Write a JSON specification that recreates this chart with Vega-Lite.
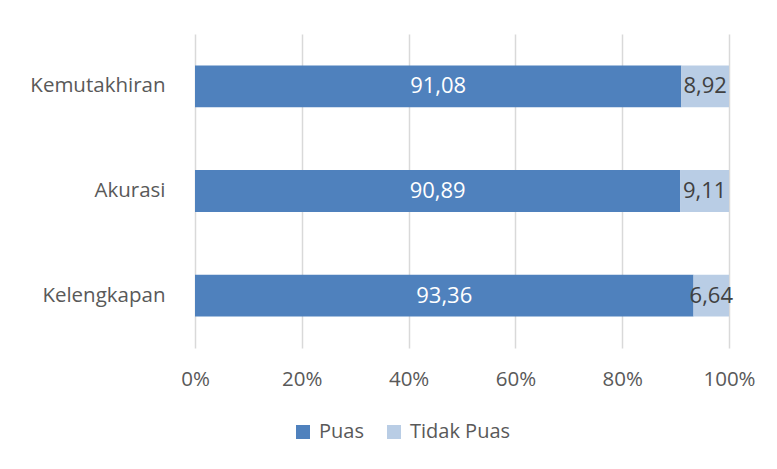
{
  "$schema": "https://vega.github.io/schema/vega-lite/v6.json",
  "width": 534,
  "height": 314,
  "autosize": {"type": "none"},
  "padding": {"left": 195, "top": 34, "right": 48, "bottom": 121},
  "background": "white",
  "config": {
    "view": {"stroke": null},
    "font": "Open Sans",
    "locale": {
      "number": {"decimal": ",", "thousands": ".", "grouping": [3], "currency": ["Rp", ""]}
    }
  },
  "data": {
    "values": [
      {"aspek": "Kemutakhiran", "status": "Puas", "nilai": 91.08},
      {"aspek": "Kemutakhiran", "status": "Tidak Puas", "nilai": 8.92},
      {"aspek": "Akurasi", "status": "Puas", "nilai": 90.89},
      {"aspek": "Akurasi", "status": "Tidak Puas", "nilai": 9.11},
      {"aspek": "Kelengkapan", "status": "Puas", "nilai": 93.36},
      {"aspek": "Kelengkapan", "status": "Tidak Puas", "nilai": 6.64}
    ]
  },
  "transform": [
    {"stack": "nilai", "groupby": ["aspek"], "sort": [{"field": "status", "order": "ascending"}], "offset": "normalize", "as": ["x0", "x1"]},
    {"calculate": "(datum.x0 + datum.x1) / 2", "as": "xmid"}
  ],
  "encoding": {
    "y": {
      "field": "aspek",
      "type": "nominal",
      "sort": ["Kemutakhiran", "Akurasi", "Kelengkapan"],
      "scale": {"paddingInner": 0.6, "paddingOuter": 0.3},
      "axis": {
        "title": null,
        "domain": false,
        "ticks": false,
        "labelPadding": 30,
        "labelFontSize": 20.5,
        "labelColor": "#595959"
      }
    }
  },
  "layer": [
    {
      "mark": {"type": "bar"},
      "encoding": {
        "x": {
          "field": "x0",
          "type": "quantitative",
          "scale": {"domain": [0, 1], "nice": false},
          "axis": {
            "title": null,
            "format": "%",
            "values": [0, 0.2, 0.4, 0.6, 0.8, 1],
            "domain": false,
            "ticks": false,
            "grid": true,
            "gridColor": "#D9D9D9",
            "gridWidth": 1.5,
            "labelFlush": false,
            "labelPadding": 21,
            "labelFontSize": 20.5,
            "labelColor": "#595959"
          }
        },
        "x2": {"field": "x1"},
        "color": {
          "field": "status",
          "type": "nominal",
          "scale": {"domain": ["Puas", "Tidak Puas"], "range": ["#4F81BD", "#B9CDE5"]},
          "legend": {
            "title": null,
            "orient": "none",
            "direction": "horizontal",
            "legendX": 98,
            "legendY": 388,
            "symbolType": "square",
            "symbolSize": 196,
            "symbolStrokeWidth": 0,
            "symbolOpacity": 1,
            "labelFontSize": 20,
            "labelColor": "#595959",
            "labelOffset": 6,
            "columnPadding": 20
          }
        }
      }
    },
    {
      "mark": {"type": "text", "fontSize": 22, "align": "center", "baseline": "middle"},
      "encoding": {
        "x": {"field": "xmid", "type": "quantitative"},
        "text": {"field": "nilai", "type": "quantitative", "format": ".2f"},
        "color": {
          "condition": {"test": "datum.status === 'Puas'", "value": "white"},
          "value": "#404040"
        }
      }
    }
  ]
}
